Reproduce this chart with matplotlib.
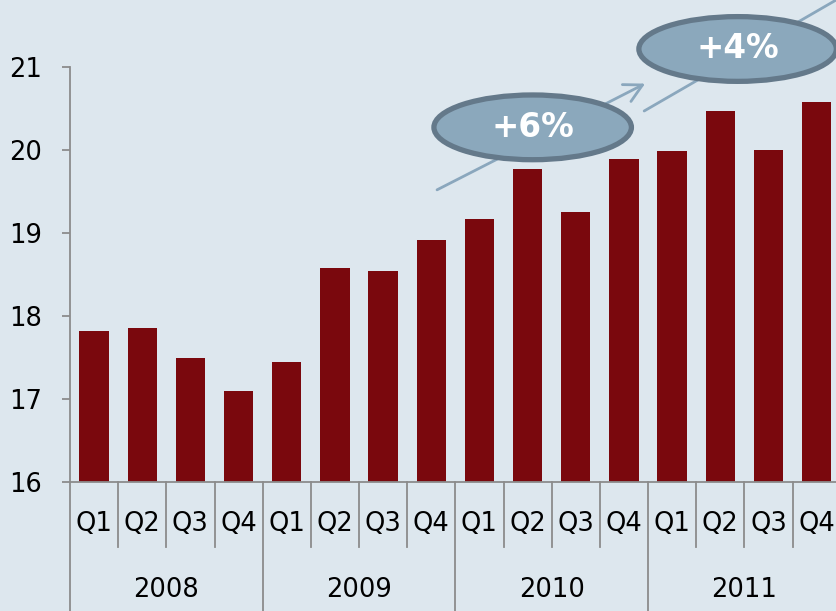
import matplotlib
matplotlib.use("Agg")
import matplotlib.pyplot as plt
from matplotlib.patches import Ellipse
from matplotlib.transforms import blended_transform_factory

plt.rcParams["font.family"] = ["DejaVu Sans"]

# data
quarters = ["Q1", "Q2", "Q3", "Q4"]
years = ["2008", "2009", "2010", "2011"]
values = [17.82, 17.86, 17.49, 17.10,
          17.45, 18.58, 18.54, 18.92,
          19.17, 19.77, 19.25, 19.89,
          19.99, 20.47, 20.00, 20.58]
growth_labels = ["+6%", "+4%"]

BG = "#dde7ee"
BAR = "#7a080d"
AX = "#8c8c8c"
FILL = "#8ba8bc"
EDGE = "#64798a"
ARROW = "#8aa7bd"

fig = plt.figure(figsize=(8.37, 6.11), dpi=100, facecolor=BG)
ax = fig.add_axes([70 / 837, 129 / 611, 770.7 / 837, 415 / 611])
ax.set_facecolor(BG)

n = len(values)
xs = [i + 0.5 for i in range(n)]
ax.bar(xs, values, width=0.61, color=BAR, bottom=0, zorder=2)

ax.set_xlim(0, n)
ax.set_ylim(16, 21)
ax.set_yticks(range(16, 22))
ax.tick_params(axis="y", direction="out", length=6, width=1.3, color=AX,
               pad=14, labelsize=18.5, labelcolor="black")
ax.set_xticks([])
for s in ["top", "right"]:
    ax.spines[s].set_visible(False)
for s in ["left", "bottom"]:
    ax.spines[s].set_color(AX)
    ax.spines[s].set_linewidth(1.3)

# category axis: quarter / year separators and labels
tr = blended_transform_factory(ax.transData, ax.transAxes)
for i in range(n + 1):
    if i % 4 == 0:
        ax.plot([i, i], [0, -0.33], color=AX, lw=1.3, transform=tr, clip_on=False)
    else:
        ax.plot([i, i], [0, -0.157], color=AX, lw=1.3, transform=tr, clip_on=False)
for i in range(n):
    ax.text(i + 0.5, -0.101, quarters[i % 4], transform=tr, ha="center", va="center",
            fontsize=18.5, color="black")
for j, y in enumerate(years):
    ax.text(j * 4 + 2, -0.260, y, transform=tr, ha="center", va="center",
            fontsize=18.5, color="black")

# trend arrows
arrow_kw = dict(arrowstyle="->,head_length=0.64,head_width=0.34", lw=2, color=ARROW,
                mutation_scale=20, shrinkA=0, shrinkB=0)
ax.annotate("", xy=(11.94, 20.80), xytext=(7.62, 19.52), arrowprops=arrow_kw,
            annotation_clip=False, zorder=3)
ax.annotate("", xy=(16.36, 21.96), xytext=(11.92, 20.47), arrowprops=arrow_kw,
            annotation_clip=False, zorder=3)

# growth bubbles
for (cx, cy), lab in zip([(9.605, 20.273), (13.86, 21.217)], growth_labels):
    e = Ellipse((cx, cy), 4.1, 0.78, facecolor=FILL, edgecolor=EDGE, lw=3.8,
                clip_on=False, zorder=4)
    ax.add_patch(e)
    ax.text(cx, cy, lab, ha="center", va="center", fontsize=23.5, fontweight="bold",
            color="white", zorder=5)

fig.savefig("out.png", dpi=100, facecolor=BG)
